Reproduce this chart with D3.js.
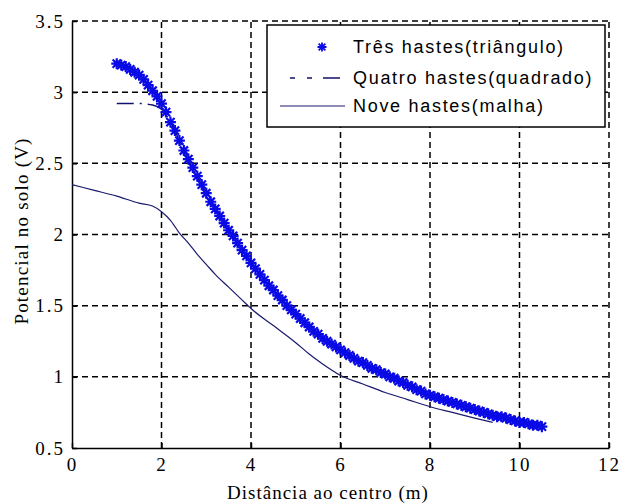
<!DOCTYPE html>
<html>
<head>
<meta charset="utf-8">
<script src="https://cdn.jsdelivr.net/npm/d3@7"></script>
<style>
    body { margin: 0; background: #fff; }
    svg { display: block; }
</style>
</head>
<body>
<div id="chart"></div>
<script>
// Três hastes (triângulo) - star markers
const tresHastes = [
    [1.0, 3.20], [1.1, 3.19], [1.2, 3.18], [1.3, 3.16], [1.4, 3.14], [1.5, 3.12], [1.6, 3.09], [1.7, 3.05],
    [1.8, 3.01], [1.9, 2.97], [2.0, 2.92], [2.1, 2.86], [2.2, 2.79], [2.3, 2.73], [2.4, 2.66], [2.5, 2.59],
    [2.6, 2.53], [2.7, 2.47], [2.8, 2.41], [2.9, 2.35], [3.0, 2.29], [3.1, 2.23], [3.2, 2.18], [3.3, 2.13],
    [3.4, 2.08], [3.5, 2.03], [3.6, 1.99], [3.7, 1.94], [3.8, 1.89], [3.9, 1.85], [4.0, 1.80], [4.1, 1.76],
    [4.2, 1.72], [4.3, 1.68], [4.4, 1.64], [4.5, 1.61], [4.6, 1.57], [4.7, 1.54], [4.8, 1.50], [4.9, 1.47],
    [5.0, 1.44], [5.1, 1.41], [5.2, 1.38], [5.3, 1.35], [5.4, 1.32], [5.5, 1.30], [5.6, 1.27], [5.7, 1.25],
    [5.8, 1.23], [5.9, 1.21], [6.0, 1.19], [6.1, 1.17], [6.2, 1.15], [6.3, 1.13], [6.4, 1.11], [6.5, 1.10],
    [6.6, 1.08], [6.7, 1.06], [6.8, 1.05], [6.9, 1.03], [7.0, 1.02], [7.1, 1.00], [7.2, 0.99], [7.3, 0.97],
    [7.4, 0.96], [7.5, 0.94], [7.6, 0.93], [7.7, 0.91], [7.8, 0.90], [7.9, 0.88], [8.0, 0.87], [8.1, 0.86],
    [8.2, 0.85], [8.3, 0.84], [8.4, 0.83], [8.5, 0.82], [8.6, 0.81], [8.7, 0.80], [8.8, 0.79], [8.9, 0.78],
    [9.0, 0.77], [9.1, 0.76], [9.2, 0.75], [9.3, 0.74], [9.4, 0.73], [9.5, 0.72], [9.6, 0.72], [9.7, 0.71],
    [9.8, 0.70], [9.9, 0.69], [10.0, 0.68], [10.1, 0.68], [10.2, 0.67], [10.3, 0.66], [10.4, 0.66], [10.5, 0.65]
]

// Quatro hastes (quadrado) - dash-dot line
const quatroHastes = [
    [1.0, 2.92], [1.5, 2.92], [1.8, 2.91], [2.0, 2.88], [2.2, 2.79], [2.5, 2.59], [3.0, 2.29], [3.5, 2.03],
    [4.0, 1.80], [4.5, 1.61], [5.0, 1.44], [6.0, 1.19], [7.0, 1.02], [8.0, 0.87], [9.0, 0.77], [10.0, 0.68],
    [10.5, 0.65]
]

// Nove hastes (malha) - solid line
const noveHastes = [
    [0.0, 2.35], [0.5, 2.31], [1.0, 2.27], [1.5, 2.22], [1.8, 2.20], [2.0, 2.16], [2.2, 2.10], [2.4, 2.01],
    [2.6, 1.94], [2.8, 1.86], [3.0, 1.79], [3.2, 1.72], [3.5, 1.63], [3.9, 1.51], [4.0, 1.48], [4.5, 1.36],
    [5.0, 1.24], [5.3, 1.16], [5.6, 1.09], [6.0, 1.01], [6.5, 0.95], [7.0, 0.89], [7.5, 0.84], [8.0, 0.79],
    [8.5, 0.75], [9.0, 0.71], [9.4, 0.68]
]

const xTicks = [0, 2, 4, 6, 8, 10, 12]
const yTicks = [0.5, 1, 1.5, 2, 2.5, 3, 3.5]
const legendLabels = ["Três hastes(triângulo)", "Quatro hastes(quadrado)", "Nove hastes(malha)"]

const width = 621
const height = 503
const margin = { top: 21, right: 12, bottom: 55, left: 72 }

const serif = "Liberation Serif, Times New Roman, serif"

const svg = d3.select("#chart")
    .append("svg")
        .attr("width", width)
        .attr("height", height)

const x = d3.scaleLinear()
    .domain([0, 12])
    .range([margin.left, width - margin.right])

const y = d3.scaleLinear()
    .domain([0.5, 3.5])
    .range([height - margin.bottom, margin.top])

const gridDash = "6,4"

// grid (dashed, includes top and right edge)
svg.append("g")
    .selectAll("line")
    .data(xTicks.slice(1))
    .enter()
    .append("line")
        .attr("x1", d => x(d)).attr("x2", d => x(d))
        .attr("y1", y(0.5)).attr("y2", y(3.5))
        .attr("stroke", "#000")
        .attr("stroke-width", 1.5)
        .attr("stroke-dasharray", gridDash)

svg.append("g")
    .selectAll("line")
    .data(yTicks.slice(1))
    .enter()
    .append("line")
        .attr("x1", x(0)).attr("x2", x(12))
        .attr("y1", d => y(d)).attr("y2", d => y(d))
        .attr("stroke", "#000")
        .attr("stroke-width", 1.5)
        .attr("stroke-dasharray", gridDash)

// axes
const xAxis = svg.append("g")
    .attr("transform", `translate(0,${y(0.5)})`)
    .call(d3.axisBottom(x).tickValues(xTicks).tickSizeInner(-5).tickSizeOuter(0).tickPadding(10))
    .attr("font-family", serif)
    .attr("font-size", 19)
xAxis.select(".domain").attr("stroke-width", 1.5)
xAxis.selectAll(".tick line").attr("stroke-width", 1.5)
xAxis.selectAll(".tick text").attr("letter-spacing", 2)

const yAxis = svg.append("g")
    .attr("transform", `translate(${x(0)},0)`)
    .call(d3.axisLeft(y).tickValues(yTicks).tickFormat(d3.format("")).tickSizeInner(-5).tickSizeOuter(0).tickPadding(7))
    .attr("font-family", serif)
    .attr("font-size", 19)
yAxis.select(".domain").attr("stroke-width", 1.5)
yAxis.selectAll(".tick line").attr("stroke-width", 1.5)
yAxis.selectAll(".tick text").attr("letter-spacing", 2)

// series
const line = d3.line()
    .x(d => x(d[0]))
    .y(d => y(d[1]))
    .curve(d3.curveMonotoneX)

svg.append("path")
    .datum(noveHastes)
    .attr("d", line)
    .attr("fill", "none")
    .attr("stroke", "#1a1a6e")
    .attr("stroke-width", 1.2)

svg.append("path")
    .datum(quatroHastes)
    .attr("d", line)
    .attr("fill", "none")
    .attr("stroke", "#10106e")
    .attr("stroke-width", 1.5)
    .attr("stroke-dasharray", "17,6,2,6")

const starPath = s => `M${-s},0H${s}M0,${-s}V${s}M${-s*0.75},${-s*0.75}L${s*0.75},${s*0.75}M${-s*0.75},${s*0.75}L${s*0.75},${-s*0.75}`

svg.append("g")
    .selectAll("path")
    .data(tresHastes)
    .enter()
    .append("path")
        .attr("transform", d => `translate(${x(d[0])},${y(d[1])})`)
        .attr("d", starPath(5.5))
        .attr("fill", "none")
        .attr("stroke", "#0a0ae6")
        .attr("stroke-width", 2.2)

// legend
const legend = svg.append("g")
legend.append("rect")
    .attr("x", 267).attr("y", 25)
    .attr("width", 338).attr("height", 102)
    .attr("fill", "#fff")
    .attr("stroke", "#000")
    .attr("stroke-width", 1.5)

const rowY = [47, 78, 106]
legend.selectAll("text")
    .data(legendLabels)
    .enter()
    .append("text")
        .attr("x", 353)
        .attr("y", (d, i) => rowY[i])
        .attr("dy", "0.36em")
        .attr("font-family", "Liberation Sans, Arial, sans-serif")
        .attr("font-size", 18)
        .attr("letter-spacing", 1.7)
        .text(d => d)

legend.append("path")
    .attr("transform", `translate(322,${rowY[0]})`)
    .attr("d", starPath(4.5))
    .attr("fill", "none")
    .attr("stroke", "#0a0ae6")
    .attr("stroke-width", 1.8)

legend.append("line")
    .attr("x1", 290).attr("x2", 340)
    .attr("y1", rowY[1]).attr("y2", rowY[1])
    .attr("stroke", "#10106e")
    .attr("stroke-width", 1.5)
    .attr("stroke-dasharray", "5,12,5,11,17")

legend.append("line")
    .attr("x1", 280).attr("x2", 345)
    .attr("y1", rowY[2]).attr("y2", rowY[2])
    .attr("stroke", "#1a1a6e")
    .attr("stroke-width", 1.2)

// axis labels
svg.append("text")
    .attr("x", 328)
    .attr("y", 499)
    .attr("text-anchor", "middle")
    .attr("font-family", serif)
    .attr("font-size", 19)
    .attr("letter-spacing", 1)
    .text("Distância ao centro  (m)")

svg.append("text")
    .attr("transform", "translate(28,231) rotate(-90)")
    .attr("text-anchor", "middle")
    .attr("font-family", serif)
    .attr("font-size", 19)
    .attr("letter-spacing", 1.2)
    .text("Potencial no solo (V)")
</script>
</body>
</html>
